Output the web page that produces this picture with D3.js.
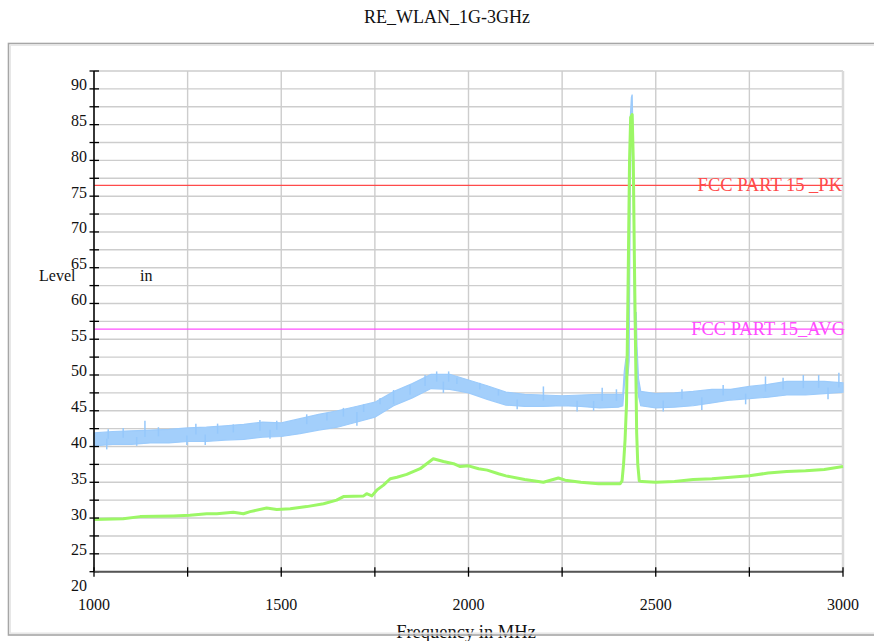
<!DOCTYPE html>
<html>
<head>
<meta charset="utf-8">
<script src="https://cdn.jsdelivr.net/npm/d3@7"></script>
<style>
  body { margin: 0; background: #fff; }
</style>
</head>
<body>
<div id="chart-container"></div>
<script>
/**************************************************
 * Data
 **************************************************/

const chartTitle = "RE_WLAN_1G-3GHz";
const xTickValues = [1000, 1500, 2000, 2500, 3000];
const yTickValues = [20, 25, 30, 35, 40, 45, 50, 55, 60, 65, 70, 75, 80, 85, 90];

// peak detector trace (blue), drawn as a noise band low..high
const peakFreq = [1000, 1050, 1100, 1150, 1200, 1250, 1300, 1350, 1400, 1450, 1500, 1550, 1600, 1650,
  1700, 1750, 1800, 1850, 1900, 1950, 2000, 2050, 2100, 2150, 2200, 2250, 2300, 2350, 2400, 2412,
  2416, 2420, 2426, 2429, 2432, 2435, 2437, 2440, 2443, 2446, 2448, 2450, 2454, 2460, 2500, 2550,
  2600, 2650, 2700, 2750, 2800, 2850, 2900, 2950, 3000];
const peakLow = [40.1, 40.3, 40.3, 40.5, 40.5, 40.7, 40.7, 40.9, 41.0, 41.3, 41.4, 41.8, 42.3, 42.7,
  43.4, 44.1, 45.7, 46.8, 48.1, 48.0, 47.5, 46.6, 45.8, 45.6, 45.6, 45.7, 45.6, 45.4, 45.5, 45.7,
  48.5, 50.0, 50.0, 52.0, 76.0, 86.0, 87.0, 76.0, 58.0, 52.0, 54.0, 50.0, 47.0, 45.7, 45.4, 45.5,
  45.7, 46.1, 46.5, 46.7, 46.9, 47.2, 47.2, 47.4, 47.6];
const peakHigh = [41.9, 42.1, 42.2, 42.3, 42.4, 42.6, 42.7, 42.9, 43.1, 43.4, 43.3, 43.9, 44.5, 45.0,
  45.6, 46.2, 47.7, 48.8, 50.1, 50.1, 49.3, 48.5, 47.6, 47.3, 47.2, 47.1, 47.2, 47.3, 47.3, 47.3,
  50.5, 52.2, 51.8, 56.0, 86.0, 88.8, 89.2, 82.0, 66.0, 56.0, 58.8, 54.0, 49.5, 47.7, 47.4, 47.5,
  47.7, 48.0, 48.0, 48.4, 48.7, 49.1, 49.1, 49.1, 48.9];

// single noise spikes visible on the blue trace
const spikeFreq = [1034, 1038, 1078, 1114, 1136, 1172, 1248, 1272, 1297, 1330, 1372, 1443, 1470, 1488,
  1568, 1622, 1666, 1702, 1720, 1764, 1800, 1844, 1884, 1915, 1933, 1947, 1969, 2030, 2080, 2130,
  2200, 2290, 2334, 2357, 2395, 2520, 2570, 2623, 2680, 2740, 2793, 2840, 2894, 2935, 2960, 2989];
const spikeVal = [39.6, 42.4, 42.6, 40.1, 43.6, 42.7, 40.2, 43.2, 40.2, 43.2, 43.1, 43.7, 41.1, 43.6,
  44.5, 44.7, 45.4, 42.9, 45.9, 46.8, 47.9, 48.6, 50.0, 50.5, 47.5, 50.5, 49.6, 48.9, 48.0, 45.2,
  48.4, 44.9, 45.0, 48.2, 48.0, 44.9, 48.0, 45.1, 48.6, 45.9, 49.8, 49.6, 50.0, 50.0, 46.6, 50.3];

// average detector trace (green)
const avgFreq = [1000, 1078, 1123, 1212, 1256, 1301, 1328, 1372, 1399, 1417, 1461, 1488, 1524, 1568,
  1613, 1648, 1666, 1720, 1728, 1742, 1755, 1773, 1791, 1809, 1835, 1871, 1906, 1933, 1960, 1978,
  2000, 2027, 2050, 2080, 2100, 2150, 2200, 2240, 2258, 2300, 2347, 2405, 2410, 2414, 2418, 2422,
  2426, 2430, 2433, 2437, 2440, 2443, 2446, 2449, 2452, 2456, 2463, 2500, 2550, 2600, 2650, 2700,
  2750, 2800, 2850, 2900, 2950, 3000];
const avgVal = [29.8, 29.9, 30.2, 30.3, 30.4, 30.6, 30.6, 30.8, 30.6, 30.9, 31.4, 31.2, 31.3, 31.6,
  32.0, 32.5, 33.0, 33.1, 33.4, 33.1, 33.9, 34.6, 35.5, 35.7, 36.1, 36.9, 38.3, 37.9, 37.6, 37.2,
  37.3, 36.9, 36.7, 36.2, 35.9, 35.4, 35.0, 35.6, 35.3, 35.0, 34.8, 34.8, 35.2, 37.5, 40.9, 46.0,
  62.0, 80.0, 86.0, 86.4, 80.0, 66.0, 54.0, 42.0, 37.5, 35.2, 35.1, 35.0, 35.1, 35.4, 35.5, 35.7,
  35.9, 36.3, 36.5, 36.6, 36.8, 37.2];

// limit lines
const limitNames = ["FCC PART 15 _PK", "FCC PART 15_AVG"];
const limitValues = [76.5, 56.4];
const limitColors = ["#ff4a4a", "#ff4cff"];

/**************************************************
 * Rendering
 **************************************************/

const width = 874, height = 641;
const serif = "'Liberation Serif', 'Times New Roman', Times, 'DejaVu Serif', serif";

const svg = d3.select("#chart-container")
  .append("svg")
  .attr("width", width)
  .attr("height", height)
  .attr("font-family", serif);

svg.append("rect")
  .attr("width", width)
  .attr("height", height)
  .attr("fill", "#fff");

const x = d3.scaleLinear().domain([1000, 3000]).range([94, 843]);
const y = d3.scaleLinear().domain([22.5, 92.5]).range([571.7, 71]);

// grid
const hGrid = d3.range(22.5, 92.6, 2.5);
const vGrid = d3.range(1000, 3001, 250);

svg.selectAll(".hgrid")
  .data(hGrid)
  .enter().append("line")
  .attr("x1", x(1000)).attr("x2", x(3000))
  .attr("y1", d => y(d)).attr("y2", d => y(d))
  .attr("stroke", "#cdcdcd")
  .attr("stroke-width", 1.4);

svg.selectAll(".vgrid")
  .data(vGrid)
  .enter().append("line")
  .attr("x1", d => x(d)).attr("x2", d => x(d))
  .attr("y1", y(92.5)).attr("y2", y(22.5))
  .attr("stroke", d => d === 3000 ? "#dadada" : "#cdcdcd")
  .attr("stroke-width", d => d === 3000 ? 2.5 : 1.4);

// limit lines
limitValues.forEach((v, i) => {
  svg.append("line")
    .attr("x1", x(1000)).attr("x2", x(3000))
    .attr("y1", y(v)).attr("y2", y(v))
    .attr("stroke", limitColors[i])
    .attr("stroke-width", 1.3);
});

// blue band
const peakData = peakFreq.map((f, i) => ({ f, lo: peakLow[i], hi: peakHigh[i] }));

svg.append("path")
  .datum(peakData)
  .attr("fill", "#a3cffb")
  .attr("stroke", "#9ccbfb")
  .attr("stroke-width", 1.2)
  .attr("d", d3.area()
    .x(d => x(d.f))
    .y0(d => y(d.lo))
    .y1(d => y(d.hi)));

// blue spikes
spikeFreq.forEach((f, i) => {
  let j = d3.bisectLeft(peakFreq, f);
  j = Math.min(Math.max(j, 1), peakFreq.length - 1);
  const mid = (peakLow[j] + peakHigh[j] + peakLow[j - 1] + peakHigh[j - 1]) / 4;
  svg.append("line")
    .attr("x1", x(f)).attr("x2", x(f))
    .attr("y1", y(mid)).attr("y2", y(spikeVal[i]))
    .attr("stroke", "#96c8fb")
    .attr("stroke-width", 1.5);
});

// green trace
svg.append("path")
  .datum(avgFreq.map((f, i) => [f, avgVal[i]]))
  .attr("fill", "none")
  .attr("stroke", "#9cf766")
  .attr("stroke-width", 3)
  .attr("stroke-linejoin", "round")
  .attr("d", d3.line()
    .x(d => x(d[0]))
    .y(d => y(d[1])));

// limit labels
limitNames.forEach((name, i) => {
  svg.append("text")
    .attr("x", i === 0 ? 842 : 845)
    .attr("y", y(limitValues[i]) + 6)
    .attr("text-anchor", "end")
    .attr("font-size", "18.5px")
    .attr("fill", limitColors[i])
    .text(name);
});

// y axis
svg.append("line")
  .attr("x1", 94).attr("x2", 94)
  .attr("y1", y(92.5)).attr("y2", y(22.5))
  .attr("stroke", "#000")
  .attr("stroke-width", 1.5);

svg.selectAll(".ytick")
  .data(hGrid)
  .enter().append("line")
  .attr("x1", 89.5).attr("x2", 99)
  .attr("y1", d => y(d)).attr("y2", d => y(d))
  .attr("stroke", "#000")
  .attr("stroke-width", 1.3);

svg.selectAll(".ylabel")
  .data(yTickValues)
  .enter().append("text")
  .attr("x", 87)
  .attr("y", d => y(d) + 1.5)
  .attr("text-anchor", "end")
  .attr("font-size", "16px")
  .attr("fill", "#111")
  .text(d => d);

// x axis
svg.append("line")
  .attr("x1", x(1000)).attr("x2", x(3000))
  .attr("y1", y(22.5)).attr("y2", y(22.5))
  .attr("stroke", "#555")
  .attr("stroke-width", 2);

svg.selectAll(".xtick")
  .data(vGrid)
  .enter().append("line")
  .attr("x1", d => x(d)).attr("x2", d => x(d))
  .attr("y1", y(22.5) - 4.5).attr("y2", y(22.5) + 5)
  .attr("stroke", "#000")
  .attr("stroke-width", 1.3);

svg.selectAll(".xlabel")
  .data(xTickValues)
  .enter().append("text")
  .attr("x", d => x(d))
  .attr("y", 610)
  .attr("text-anchor", "middle")
  .attr("font-size", "16px")
  .attr("fill", "#111")
  .text(d => d);

// titles
svg.append("text")
  .attr("x", 447)
  .attr("y", 22.7)
  .attr("text-anchor", "middle")
  .attr("font-size", "18px")
  .attr("fill", "#111")
  .text(chartTitle);

svg.append("text")
  .attr("x", 39)
  .attr("y", 280.7)
  .attr("font-size", "16px")
  .attr("fill", "#111")
  .text("Level");

svg.append("text")
  .attr("x", 140)
  .attr("y", 280.7)
  .attr("font-size", "16px")
  .attr("fill", "#111")
  .text("in");

svg.append("text")
  .attr("x", 466)
  .attr("y", 638)
  .attr("text-anchor", "middle")
  .attr("font-size", "18.5px")
  .attr("fill", "#111")
  .text("Frequency in MHz");

// outer frame
svg.append("rect")
  .attr("x", 8.5).attr("y", 43.5)
  .attr("width", 900).attr("height", 591.5)
  .attr("fill", "none")
  .attr("stroke", "#a6a6a6")
  .attr("stroke-width", 1.6);

svg.append("rect")
  .attr("x", 10.2).attr("y", 45.2)
  .attr("width", 900).attr("height", 588)
  .attr("fill", "none")
  .attr("stroke", "#e6e6e6")
  .attr("stroke-width", 1.5);
</script>
</body>
</html>
